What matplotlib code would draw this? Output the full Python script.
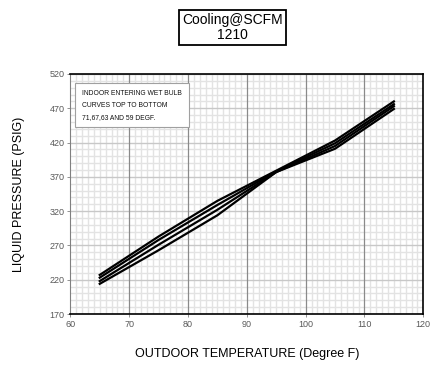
import matplotlib.pyplot as plt
import numpy as np
from matplotlib.ticker import MultipleLocator

# outdoor temperature (F)
outdoor_temp = [65, 75, 85, 95, 105, 115]
# liquid pressure (psig) per indoor wet bulb
wb71 = [227, 283, 335, 379, 423, 480]
wb67 = [223, 278, 329, 378, 419, 476]
wb63 = [218, 271, 322, 377, 415, 473]
wb59 = [214, 263, 314, 377, 411, 469]
curves = [wb71, wb67, wb63, wb59]

x_ticks = [60, 70, 80, 90, 100, 110, 120]
y_ticks = [170, 220, 270, 320, 370, 420, 470, 520]

plt.rcParams['font.family'] = ['Liberation Sans', 'DejaVu Sans']

fig = plt.figure(figsize=(4.33, 3.67), dpi=100)
ax = fig.add_axes([0.1624, 0.1444, 0.8152, 0.654])

ax.set_xlim(60, 120)
ax.set_ylim(170, 520)
ax.set_xticks(x_ticks)
ax.set_yticks(y_ticks)
ax.xaxis.set_minor_locator(MultipleLocator(1))
ax.yaxis.set_minor_locator(MultipleLocator(10))
ax.grid(which='minor', color='#e3e3e3', lw=1.0)
ax.grid(which='major', axis='y', color='#c8c8c8', lw=1.0)
ax.set_axisbelow(True)
# darker vertical major lines drawn on top of the light grid
ax.vlines(x_ticks[1:-1], y_ticks[0], y_ticks[-1], color='#8a8a8a', lw=0.9, zorder=1)

for c in curves:
    ax.plot(outdoor_temp, c, color='black', lw=1.6, zorder=3)

ax.tick_params(which='major', length=2, width=0.6, color='#808080',
               labelsize=6.5, labelcolor='#595959', pad=2)
ax.tick_params(which='minor', length=0)
for s in ax.spines.values():
    s.set_color('black')
    s.set_linewidth(1.2)
ax.spines['left'].set_color('#808080')
ax.spines['left'].set_linewidth(0.8)

ax.set_ylabel('LIQUID PRESSURE (PSIG)', fontsize=9, labelpad=18)
ax.set_xlabel('OUTDOOR TEMPERATURE (Degree F)', fontsize=9, labelpad=14)

ax.text(0.033, 0.935, 'INDOOR ENTERING WET BULB\nCURVES TOP TO BOTTOM\n71,67,63 AND 59 DEGF.',
        transform=ax.transAxes, fontsize=4.9, va='top', ha='left', linespacing=2.0,
        color='#111111',
        bbox=dict(boxstyle='square,pad=1.0', fc='white', ec='#a0a0a0', lw=0.8), zorder=5)

fig.text(0.537, 0.926, 'Cooling@SCFM\n1210', ha='center', va='center', fontsize=10,
         linespacing=1.1,
         bbox=dict(boxstyle='square,pad=0.22', fc='white', ec='black', lw=1.3))

fig.savefig('out.png', dpi=100)
